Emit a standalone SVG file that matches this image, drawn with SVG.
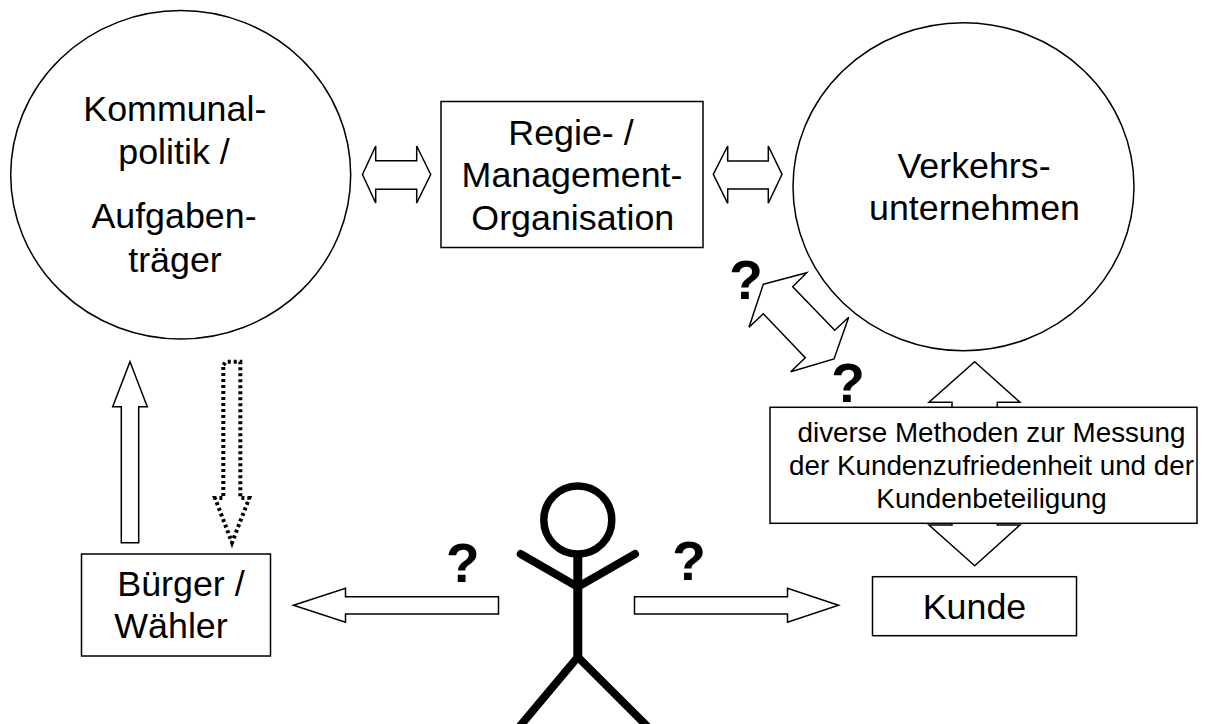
<svg xmlns="http://www.w3.org/2000/svg" width="1208" height="724" viewBox="0 0 1208 724">
<style>
.s{fill:#fff;stroke:#000;stroke-width:1.5}
.f{fill:none;stroke:#000;stroke-width:8}
text{font-family:"Liberation Sans",Arial,sans-serif;fill:#000;text-anchor:middle}
.t{font-size:35.800px}
.m{font-size:27.800px}
.q{font-size:55px;font-weight:bold}
</style>
<rect width="1208" height="724" fill="#fff"/>
<g id="kommunal"><ellipse class="s" cx="180.700" cy="174.800" rx="170" ry="164.200"/>
<text class="t" x="174.800" y="120.700">Kommunal-</text><text class="t" x="174" y="163.500">politik /</text><text class="t" x="174" y="228.300">Aufgaben-</text><text class="t" x="175" y="271.700">träger</text></g>
<g id="verkehr"><ellipse class="s" cx="963.500" cy="186.700" rx="170.500" ry="164"/>
<text class="t" x="974" y="177.700">Verkehrs-</text><text class="t" x="974.500" y="220">unternehmen</text></g>
<g id="connectors">
<polygon class="s" points="362.500,174.500 375.700,146 375.700,160.700 416.700,160.700 416.700,146 430.700,174.500 416.700,203 416.700,189.300 375.700,189.300 375.700,203"/>
<polygon class="s" points="713.300,174.300 727.700,146 727.700,161 768.300,161 768.300,146 782,174.300 768.300,203.300 768.300,189 727.700,189 727.700,203.300"/>
<polygon class="s" points="763.300,284.300 806.700,272.700 792.700,286.700 834.700,330.300 848.700,317.300 834,359 790.700,371.700 805.300,357.700 763.300,313.700 749,327.300"/>
<polygon class="s" points="130,361.700 147.300,406.700 138.700,406.700 138.700,542.700 121.300,542.700 121.300,406.700 112.700,406.700"/>
<polygon points="223.300,365 226,361.700 240.300,361.700 240.300,498 249.300,498 232,542.700 215,498 223.300,498" fill="#fff" stroke="#000" stroke-width="4" stroke-dasharray="3 3"/>
<polygon class="s" points="293.500,605.300 345.500,588.300 345.500,596.700 498.500,596.700 498.500,614 345.500,614 345.500,622.300"/>
<polygon class="s" points="838.500,605.300 787.500,588.300 787.500,596.700 634.500,596.700 634.500,614 787.500,614 787.500,622.300"/>
<polygon class="s" points="974.700,361.700 1020,402.300 997.300,402.300 997.300,410 952,410 952,402.300 929,402.300"/>
<polygon class="s" points="974.700,565.700 929,525 952,525 952,520 997.300,520 997.300,525 1020,525"/>
</g>
<g id="regie"><rect class="s" x="441" y="101.500" width="262" height="146"/>
<text class="t" x="571" y="145">Regie- /</text><text class="t" x="572" y="187.300">Management-</text><text class="t" x="572.800" y="230">Organisation</text></g>
<g id="methoden"><rect class="s" x="770" y="407.300" width="427" height="116"/>
<text class="m" x="991.500" y="441.700">diverse Methoden zur Messung</text><text class="m" x="991.500" y="475">der Kundenzufriedenheit und der</text><text class="m" x="991.500" y="508.300">Kundenbeteiligung</text></g>
<g id="kunde"><rect class="s" x="872.500" y="576.700" width="204" height="59"/><text class="t" x="974.500" y="619.300">Kunde</text></g>
<g id="buerger"><rect class="s" x="81.500" y="554" width="189" height="102"/>
<text class="t" x="181" y="596">Bürger /</text><text class="t" x="171" y="638.300">Wähler</text></g>
<g id="person">
<circle cx="577.800" cy="520" r="34" fill="none" stroke="#000" stroke-width="7.500"/>
<path d="M577.800 555V658" fill="none" stroke="#000" stroke-width="9"/>
<path class="f" d="M520.700 554L577.800 587L635 554" style="stroke-linecap:round;stroke-linejoin:miter"/>
<path class="f" d="M577.800 657L512.500 735M577.800 657L656 735"/>
</g>
<g id="questions">
<text class="q" x="746" y="299">?</text><text class="q" x="848" y="401.500">?</text><text class="q" x="462.700" y="582">?</text><text class="q" x="689" y="580">?</text>
</g>
</svg>
